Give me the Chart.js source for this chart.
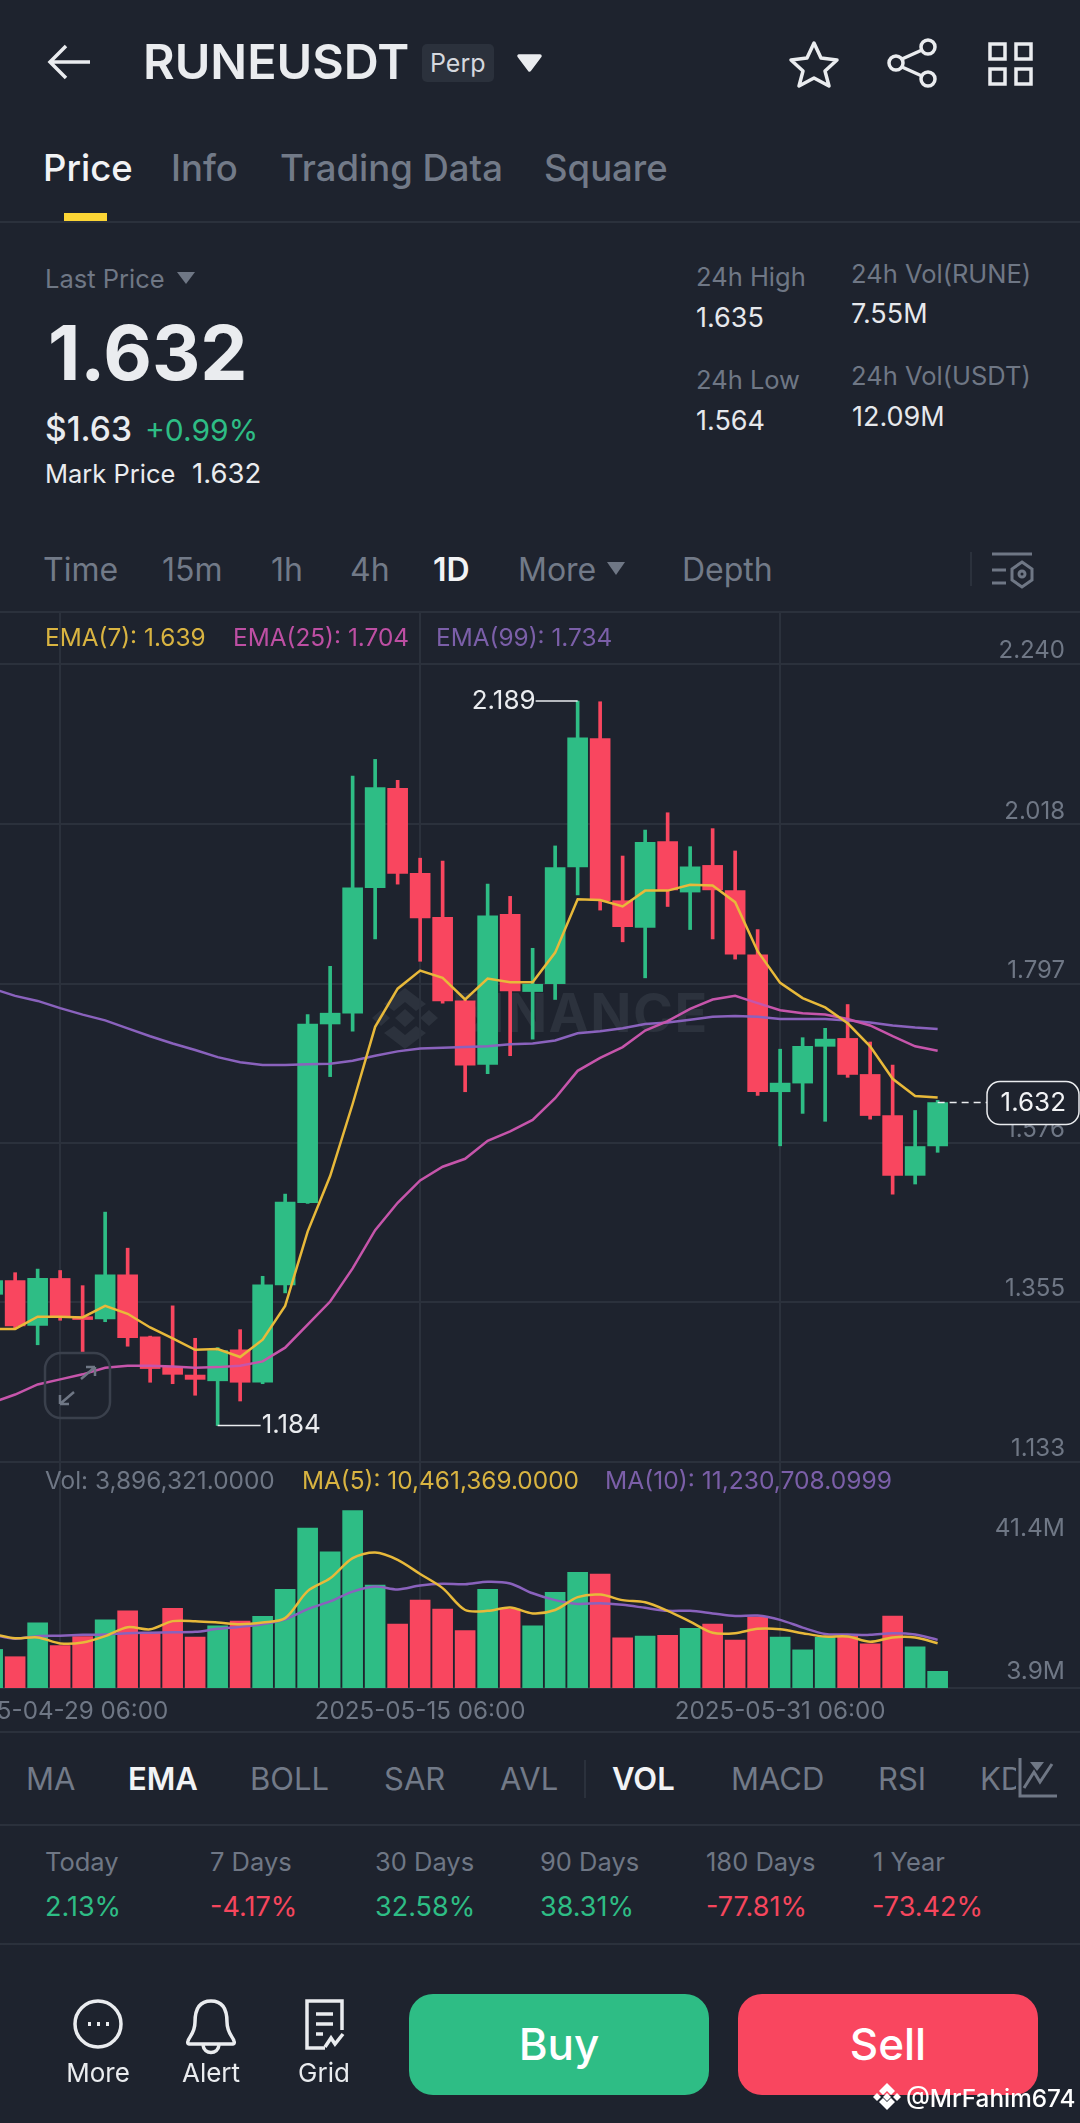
<!DOCTYPE html>
<html>
<head>
<meta charset="utf-8">
<script src="https://cdn.jsdelivr.net/npm/chart.js@4"></script>
<style>
  html, body { margin: 0; padding: 0; background: #1e232e; }
  #page { position: relative; width: 1080px; height: 2123px; overflow: hidden; background: #1e232e; font-family: Inter, "Noto Sans", sans-serif; color: #eaecef; }
  #page canvas { position: absolute; left: 0; }
  .t { position: absolute; transform: translateY(-50%); white-space: nowrap; line-height: 1; }
  .grey { color: #6f7785; }
  .tab { font-size: 36.5px; font-weight: 500; color: #727a88; }
  .frame { font-size: 32px; color: #727a88; }
  .stat { font-size: 25.5px; color: #6f7785; }
  .val { font-size: 27px; color: #e6e8ec; }
  .ind { font-size: 31px; color: #727a88; }
  .pct { font-size: 27px; }
  .on { color: #f2f3f5; font-weight: 600; }
  .up { color: #2ebd85; }
  .down { color: #f6465d; }
  .sep { position: absolute; left: 0; width: 1080px; height: 2px; background: #2b313c; }
  .btn { position: absolute; top: 1994px; height: 101px; border-radius: 24px; color: #fff; font-size: 44px; font-weight: 500; text-align: center; line-height: 101px; }
  svg { position: absolute; overflow: visible; }
</style>
</head>
<body>
<div id="page">
  <!-- cabecalho -->
  <svg style="left:0;top:0" width="1080" height="100" fill="none" stroke="#eaecef" stroke-width="3.5">
    <path d="M50 62H90M66 46L50 62L66 78"/>
    <path d="M814 43L821 58L837 60L825 71L829 86L814 78L799 86L803 71L791 60L807 58Z" stroke-linejoin="round"/>
    <circle cx="928" cy="47" r="7"/><circle cx="928" cy="79" r="7"/><circle cx="896" cy="63" r="7"/>
    <path d="M902 59L922 50M902 67L922 76"/>
    <rect x="990" y="44" width="15" height="15"/><rect x="1016" y="44" width="15" height="15"/>
    <rect x="990" y="69" width="15" height="15"/><rect x="1016" y="69" width="15" height="15"/>
    <path d="M519 56H540L529.5 70Z" fill="#eaecef" stroke-linejoin="round"/>
  </svg>
  <div class="t" style="left:143px;top:62px;font-size:48.5px;font-weight:600;">RUNEUSDT</div>
  <div style="position:absolute;left:422px;top:44px;width:72px;height:38px;background:#2b313c;border-radius:5px;"></div>
  <div class="t" style="left:430px;top:63px;font-size:25px;color:#d5d8de;">Perp</div>

  <div class="t tab on" style="left:43px;top:168px;font-weight:500;">Price</div>
  <div class="t tab" style="left:171px;top:168px;">Info</div>
  <div class="t tab" style="left:280px;top:168px;">Trading Data</div>
  <div class="t tab" style="left:544px;top:168px;">Square</div>
  <div style="position:absolute;left:64px;top:213px;width:43px;height:8px;background:#fcd535;"></div>
  <div class="sep" style="top:221px;"></div>

  <!-- resumo do preco -->
  <div class="t stat" style="left:45px;top:279px;">Last Price</div>
  <svg style="left:0;top:0" width="10" height="10"><path d="M177 272H195L186 284Z" fill="#6f7785"/></svg>
  <div class="t" style="left:48px;top:352px;font-size:75px;font-weight:700;">1.632</div>
  <div class="t" style="left:45px;top:430px;font-size:33.5px;font-weight:500;">$1.63</div>
  <div class="t up" style="left:145px;top:430px;font-size:30px;">+0.99%</div>
  <div class="t" style="left:45px;top:474px;font-size:25.5px;">Mark Price</div>
  <div class="t" style="left:192px;top:474px;font-size:27.5px;">1.632</div>
  <div class="t stat" style="left:696px;top:277px;">24h High</div>
  <div class="t val" style="left:696px;top:317px;">1.635</div>
  <div class="t stat" style="left:696px;top:380px;">24h Low</div>
  <div class="t val" style="left:696px;top:420px;">1.564</div>
  <div class="t stat" style="left:851px;top:274px;">24h Vol(RUNE)</div>
  <div class="t val" style="left:851px;top:313px;">7.55M</div>
  <div class="t stat" style="left:851px;top:376px;">24h Vol(USDT)</div>
  <div class="t val" style="left:852px;top:416px;">12.09M</div>

  <!-- periodos -->
  <div class="t frame" style="left:43px;top:570px;">Time</div>
  <div class="t frame" style="left:162px;top:570px;">15m</div>
  <div class="t frame" style="left:271px;top:570px;">1h</div>
  <div class="t frame" style="left:350px;top:570px;">4h</div>
  <div class="t frame on" style="left:433px;top:570px;">1D</div>
  <div class="t frame" style="left:518px;top:570px;">More</div>
  <div class="t frame" style="left:682px;top:570px;">Depth</div>
  <svg style="left:0;top:0" width="10" height="10" fill="none" stroke="#6f7785" stroke-width="3">
    <path d="M607 562H625L616 575Z" fill="#6f7785" stroke="none"/>
    <path d="M971 552V586" stroke="#2b313c" stroke-width="2"/>
    <path d="M992 554H1032M992 570H1006M992 583H1006"/>
    <path d="M1022 562L1032 569V580L1022 587L1012 580V569Z"/><circle cx="1022" cy="574" r="3"/>
  </svg>
  <div class="sep" style="top:611px;"></div>

  <!-- marca d'agua, fica atras dos candles -->
  <svg style="left:0;top:0" width="10" height="10" fill="#2c323d">
    <path d="M405 988L426 1004L416 1011L405 1002L394 1011L384 1004Z"/>
    <path d="M405 1049L426 1033L416 1026L405 1035L394 1026L384 1033Z"/>
    <path d="M405 1009L415 1018L405 1027L395 1018Z"/>
    <path d="M372 1018L381 1010L390 1018L381 1026Z"/><path d="M420 1018L429 1010L438 1018L429 1026Z"/>
  </svg>
  <div class="t" style="left:452px;top:1013px;font-size:54px;font-weight:700;letter-spacing:1.5px;color:#2c323d;">BINANCE</div>

  <canvas id="price-chart" width="1080" height="851" style="top:612px;"></canvas>
  <canvas id="volume-chart" width="1080" height="268" style="top:1463px;"></canvas>

  <div class="t" style="left:45px;top:637px;font-size:24.4px;color:#d9b441;">EMA(7): 1.639</div>
  <div class="t" style="left:233px;top:637px;font-size:24.4px;color:#bd4fa3;">EMA(25): 1.704</div>
  <div class="t" style="left:436px;top:637px;font-size:24.4px;color:#7b5fa8;">EMA(99): 1.734</div>

  <svg style="left:0;top:0" width="10" height="10" fill="none" stroke="#3a404c" stroke-width="2.5">
    <rect x="45" y="1353" width="65" height="65" rx="16"/>
    <path d="M60 1404L74 1392M60 1404V1395M60 1404H69" stroke="#6f7785"/>
    <path d="M95 1367L81 1379M95 1367V1376M95 1367H86" stroke="#6f7785"/>
  </svg>

  <div class="t grey" style="left:45px;top:1480px;font-size:24.4px;">Vol: 3,896,321.0000</div>
  <div class="t" style="left:302px;top:1480px;font-size:24.4px;color:#d9b441;">MA(5): 10,461,369.0000</div>
  <div class="t" style="left:605px;top:1480px;font-size:24.6px;color:#7b5fa8;">MA(10): 11,230,708.0999</div>

  <!-- indicadores -->
  <div class="sep" style="top:1731px;"></div>
  <div class="t ind" style="left:26px;top:1778px;">MA</div>
  <div class="t ind on" style="left:128px;top:1778px;">EMA</div>
  <div class="t ind" style="left:250px;top:1778px;">BOLL</div>
  <div class="t ind" style="left:384px;top:1778px;">SAR</div>
  <div class="t ind" style="left:500px;top:1778px;">AVL</div>
  <div class="t ind on" style="left:612px;top:1778px;">VOL</div>
  <div class="t ind" style="left:731px;top:1778px;">MACD</div>
  <div class="t ind" style="left:878px;top:1778px;">RSI</div>
  <div class="t ind" style="left:980px;top:1778px;">KDJ</div>
  <div style="position:absolute;left:1016px;top:1755px;width:64px;height:46px;background:#1e232e;"></div>
  <svg style="left:0;top:0" width="10" height="10" fill="none" stroke="#6f7785" stroke-width="3">
    <path d="M585 1760V1798" stroke="#2b313c" stroke-width="2"/>
    <path d="M1020 1758V1796H1057M1024 1788L1034 1772L1040 1782L1052 1764"/>
    <path d="M1030 1762H1044L1037 1771Z" fill="#6f7785" stroke="none"/>
  </svg>
  <div class="sep" style="top:1824px;"></div>

  <div class="t stat" style="left:45px;top:1862px;">Today</div>
  <div class="t stat" style="left:210px;top:1862px;">7 Days</div>
  <div class="t stat" style="left:375px;top:1862px;">30 Days</div>
  <div class="t stat" style="left:540px;top:1862px;">90 Days</div>
  <div class="t stat" style="left:706px;top:1862px;">180 Days</div>
  <div class="t stat" style="left:873px;top:1862px;">1 Year</div>
  <div class="t pct up" style="left:45px;top:1906px;">2.13%</div>
  <div class="t pct down" style="left:210px;top:1906px;">-4.17%</div>
  <div class="t pct up" style="left:375px;top:1906px;">32.58%</div>
  <div class="t pct up" style="left:540px;top:1906px;">38.31%</div>
  <div class="t pct down" style="left:706px;top:1906px;">-77.81%</div>
  <div class="t pct down" style="left:872px;top:1906px;">-73.42%</div>
  <div class="sep" style="top:1943px;"></div>

  <!-- rodape -->
  <svg style="left:0;top:0" width="10" height="10" fill="none" stroke="#eaecef" stroke-width="3.5">
    <circle cx="98" cy="2024" r="23"/>
    <path d="M88 2024h3M97 2024h3M106 2024h3" stroke-width="4"/>
    <path d="M211 2001C198 2001 195 2012 195 2022C195 2033 189 2037 188 2041C187 2044 189 2044 191 2044H231C233 2044 235 2044 234 2041C233 2037 227 2033 227 2022C227 2012 224 2001 211 2001Z"/>
    <path d="M203 2045C204 2055 218 2055 219 2045"/>
    <path d="M325 2048H307V2001H342V2030M316 2014H333M316 2024H333M316 2034H323"/>
    <path d="M325 2047L331 2038L335 2044L343 2034"/>
  </svg>
  <div class="t" style="left:98px;top:2073px;transform:translate(-50%,-50%);font-size:26px;">More</div>
  <div class="t" style="left:211px;top:2073px;transform:translate(-50%,-50%);font-size:26px;">Alert</div>
  <div class="t" style="left:324px;top:2073px;transform:translate(-50%,-50%);font-size:26px;">Grid</div>
  <div class="btn" style="left:409px;width:300px;background:#2ebd85;">Buy</div>
  <div class="btn" style="left:738px;width:300px;background:#f9465f;">Sell</div>
  <svg style="left:0;top:0" width="10" height="10" fill="#fff">
    <path d="M887 2083L895 2091L891 2095L887 2091L883 2095L879 2091Z"/>
    <path d="M887 2110L895 2102L891 2098L887 2102L883 2098L879 2102Z"/>
    <path d="M887 2093L891 2097L887 2101L883 2097Z"/>
    <path d="M873 2097L877 2093L881 2097L877 2101Z"/><path d="M893 2097L897 2093L901 2097L897 2101Z"/>
  </svg>
  <div class="t" style="left:906px;top:2098px;font-size:24.3px;font-weight:500;color:#fff;">@MrFahim674</div>
</div>

<script>
// Um candle por dia
const dates = [
    "2025-04-26 06:00", "2025-04-27 06:00", "2025-04-28 06:00", "2025-04-29 06:00", "2025-04-30 06:00",
    "2025-05-01 06:00", "2025-05-02 06:00", "2025-05-03 06:00", "2025-05-04 06:00", "2025-05-05 06:00",
    "2025-05-06 06:00", "2025-05-07 06:00", "2025-05-08 06:00", "2025-05-09 06:00", "2025-05-10 06:00",
    "2025-05-11 06:00", "2025-05-12 06:00", "2025-05-13 06:00", "2025-05-14 06:00", "2025-05-15 06:00",
    "2025-05-16 06:00", "2025-05-17 06:00", "2025-05-18 06:00", "2025-05-19 06:00", "2025-05-20 06:00",
    "2025-05-21 06:00", "2025-05-22 06:00", "2025-05-23 06:00", "2025-05-24 06:00", "2025-05-25 06:00",
    "2025-05-26 06:00", "2025-05-27 06:00", "2025-05-28 06:00", "2025-05-29 06:00", "2025-05-30 06:00",
    "2025-05-31 06:00", "2025-06-01 06:00", "2025-06-02 06:00", "2025-06-03 06:00", "2025-06-04 06:00",
    "2025-06-05 06:00", "2025-06-06 06:00", "2025-06-07 06:00"
];
const dateTicks = ["2025-04-29 06:00", "2025-05-15 06:00", "2025-05-31 06:00"];

const opens = [1.366, 1.385, 1.323, 1.388, 1.335, 1.332, 1.393, 1.307, 1.265, 1.254, 1.246, 1.289, 1.244, 1.379, 1.493, 1.741, 1.756, 1.930, 2.068, 1.950, 1.889, 1.773, 1.685, 1.893, 1.786, 1.797, 1.959, 2.137, 1.912, 1.875, 1.994, 1.924, 1.961, 1.926, 1.837, 1.647, 1.659, 1.710, 1.721, 1.671, 1.614, 1.531, 1.572];
const closes = [1.385, 1.322, 1.388, 1.334, 1.331, 1.393, 1.306, 1.263, 1.255, 1.248, 1.288, 1.244, 1.379, 1.494, 1.741, 1.756, 1.930, 2.069, 1.950, 1.888, 1.773, 1.684, 1.891, 1.787, 1.796, 1.958, 2.138, 1.912, 1.876, 1.993, 1.927, 1.959, 1.927, 1.838, 1.647, 1.659, 1.710, 1.720, 1.671, 1.614, 1.531, 1.571, 1.632];
const highs = [1.394, 1.396, 1.401, 1.399, 1.378, 1.480, 1.430, 1.308, 1.350, 1.305, 1.292, 1.317, 1.391, 1.505, 1.754, 1.821, 2.085, 2.108, 2.079, 1.971, 1.967, 1.774, 1.935, 1.918, 1.846, 1.988, 2.189, 2.188, 1.974, 2.010, 2.034, 1.987, 2.012, 1.981, 1.872, 1.706, 1.722, 1.735, 1.768, 1.716, 1.684, 1.621, 1.635];
const lows = [1.360, 1.318, 1.296, 1.330, 1.286, 1.328, 1.294, 1.244, 1.242, 1.226, 1.184, 1.218, 1.242, 1.368, 1.492, 1.668, 1.731, 1.859, 1.935, 1.828, 1.770, 1.647, 1.672, 1.697, 1.720, 1.775, 1.920, 1.899, 1.855, 1.805, 1.904, 1.872, 1.859, 1.831, 1.642, 1.572, 1.617, 1.606, 1.667, 1.609, 1.505, 1.519, 1.563];

const ema7 = [1.318, 1.318, 1.335, 1.335, 1.334, 1.350, 1.339, 1.320, 1.305, 1.289, 1.290, 1.279, 1.303, 1.350, 1.453, 1.530, 1.630, 1.737, 1.790, 1.815, 1.805, 1.775, 1.804, 1.799, 1.799, 1.840, 1.914, 1.913, 1.904, 1.926, 1.926, 1.934, 1.933, 1.910, 1.842, 1.798, 1.777, 1.764, 1.742, 1.710, 1.665, 1.641, 1.639];
const ema25 = [1.216, 1.227, 1.241, 1.248, 1.255, 1.264, 1.267, 1.267, 1.266, 1.264, 1.265, 1.267, 1.273, 1.292, 1.324, 1.356, 1.402, 1.455, 1.493, 1.524, 1.543, 1.554, 1.579, 1.592, 1.608, 1.638, 1.676, 1.694, 1.709, 1.732, 1.745, 1.762, 1.775, 1.780, 1.770, 1.760, 1.756, 1.754, 1.748, 1.739, 1.724, 1.710, 1.704];
const ema99 = [1.790, 1.780, 1.773, 1.763, 1.754, 1.746, 1.735, 1.724, 1.714, 1.705, 1.695, 1.688, 1.684, 1.684, 1.685, 1.686, 1.690, 1.697, 1.703, 1.707, 1.708, 1.709, 1.710, 1.713, 1.714, 1.718, 1.728, 1.731, 1.735, 1.741, 1.743, 1.747, 1.751, 1.752, 1.751, 1.748, 1.748, 1.748, 1.746, 1.743, 1.739, 1.736, 1.734];
const priceTicks = [2.240, 2.018, 1.797, 1.576, 1.355, 1.133];

// Volume em milhoes
const volumes = [9.0, 7.3, 15.2, 9.9, 12.0, 15.9, 18.0, 12.8, 18.6, 11.9, 14.5, 15.6, 16.7, 23.0, 37.3, 31.8, 41.4, 24.0, 14.9, 20.5, 18.4, 13.4, 23.0, 18.4, 14.5, 22.3, 27.0, 26.6, 11.7, 12.1, 12.3, 13.9, 14.9, 11.2, 16.6, 11.9, 8.9, 11.8, 12.1, 10.3, 16.8, 9.6, 3.896];
const ma5 = [12.6, 11.6, 11.8, 10.4, 10.6, 12.1, 14.2, 13.7, 15.6, 15.6, 15.3, 14.9, 15.3, 16.3, 22.6, 25.6, 30.3, 31.6, 29.9, 26.6, 23.3, 18.2, 18.0, 18.8, 17.4, 18.2, 21.2, 21.8, 20.5, 20.0, 18.0, 15.5, 12.9, 12.8, 13.8, 13.7, 12.8, 12.0, 12.0, 10.8, 11.8, 11.8, 10.46];
const ma10 = [12.4, 11.5, 12.1, 12.2, 12.4, 12.5, 12.8, 12.9, 13.0, 13.1, 13.8, 14.3, 14.9, 16.0, 18.4, 20.2, 22.5, 23.7, 23.0, 23.9, 24.3, 24.2, 24.8, 24.4, 22.1, 20.5, 19.6, 19.8, 19.4, 18.7, 18.0, 18.0, 17.4, 16.8, 16.9, 15.9, 14.1, 12.6, 12.5, 12.4, 12.8, 12.5, 11.23];
const volumeTicks = [41.4, 3.9];

const GREEN = "#2ebd85";
const RED = "#f9465f";
const GRID = "#2b313c";
const TICK = "#6f7785";
const FONT = "Inter";

const candleColors = closes.map((c, i) => c >= opens[i] ? GREEN : RED);
const toPoints = values => values.map((y, x) => ({ x, y }));
const xAxisIndexes = dateTicks.map(d => dates.indexOf(d));

function xScale(showLabels) {
    return {
        type: "linear",
        offset: false,
        min: 0.327,
        max: 48.327,
        afterBuildTicks: scale => { scale.ticks = xAxisIndexes.map(value => ({ value })); },
        afterFit: scale => {
            scale.paddingLeft = 0;
            scale.paddingRight = 0;
            if(showLabels) scale.height = 43;
        },
        grid: { offset: false, color: GRID, lineWidth: 2, drawTicks: false },
        border: { display: showLabels, color: GRID, width: 2 },
        ticks: {
            display: showLabels,
            autoSkip: false,
            maxRotation: 0,
            padding: 9,
            color: TICK,
            font: { family: FONT, size: 24.2 },
            callback: value => dates[value]
        }
    };
}

function lineSet(values, color, order, tension) {
    return {
        type: "line",
        data: toPoints(values),
        borderColor: color,
        borderWidth: 2.5,
        pointRadius: 0,
        tension: tension,
        order: order
    };
}

// Rotulos de maxima, minima e ultimo preco
const priceLabels = {
    id: "priceLabels",
    afterDraw(chart) {
        const { ctx, scales: { x, y } } = chart;
        const lowIndex = lows.indexOf(Math.min(...lows));
        const highIndex = highs.indexOf(Math.max(...highs));
        const lastIndex = closes.length - 1;

        ctx.save();
        ctx.strokeStyle = "#eaecef";
        ctx.fillStyle = "#eaecef";
        ctx.lineWidth = 1.5;
        ctx.font = "26px " + FONT;
        ctx.textBaseline = "middle";

        const highY = y.getPixelForValue(highs[highIndex]);
        const highX = x.getPixelForValue(highIndex);
        ctx.beginPath();
        ctx.moveTo(highX, highY);
        ctx.lineTo(highX - 42, highY);
        ctx.stroke();
        ctx.textAlign = "right";
        ctx.fillText(highs[highIndex].toFixed(3), highX - 42, highY);

        const lowY = y.getPixelForValue(lows[lowIndex]);
        const lowX = x.getPixelForValue(lowIndex);
        ctx.beginPath();
        ctx.moveTo(lowX, lowY);
        ctx.lineTo(lowX + 43, lowY);
        ctx.stroke();
        ctx.textAlign = "left";
        ctx.fillText(lows[lowIndex].toFixed(3), lowX + 44, lowY);

        // Ultimo preco, com a caixa por cima da escala
        const lastY = y.getPixelForValue(closes[lastIndex]);
        const lastX = x.getPixelForValue(lastIndex);
        ctx.setLineDash([7, 5]);
        ctx.beginPath();
        ctx.moveTo(lastX, lastY);
        ctx.lineTo(987, lastY);
        ctx.stroke();
        ctx.setLineDash([]);
        ctx.beginPath();
        ctx.roundRect(987, lastY - 21, 92, 43, 13);
        ctx.fillStyle = "#1e232e";
        ctx.fill();
        ctx.stroke();
        ctx.fillStyle = "#f2f3f5";
        ctx.textAlign = "right";
        ctx.fillText(closes[lastIndex].toFixed(3), 1066, lastY + 1);
        ctx.restore();
    }
};

// A escala de volume nao tem grade e o rotulo de cima fica abaixo do nivel
const volumeLabels = {
    id: "volumeLabels",
    afterDraw(chart) {
        const { ctx, scales: { y } } = chart;
        ctx.save();
        ctx.fillStyle = TICK;
        ctx.font = "24.5px " + FONT;
        ctx.textAlign = "right";
        ctx.textBaseline = "middle";
        ctx.fillText(volumeTicks[0] + "M", 1065, y.getPixelForValue(volumeTicks[0]) + 18);
        ctx.fillText(volumeTicks[1] + "M", 1065, y.getPixelForValue(volumeTicks[1]));
        ctx.restore();
    }
};

function priceChartConfig() {
    return {
        type: "bar",
        plugins: [priceLabels],
        data: {
            datasets: [
                lineSet(ema7, "#e8b93a", 0, 0),
                lineSet(ema25, "#c655ab", 1, 0),
                lineSet(ema99, "#8a62bd", 2, 0),
                {
                    data: opens.map((o, i) => ({ x: i, y: [o, closes[i]] })),
                    backgroundColor: candleColors,
                    barThickness: 20,
                    grouped: false,
                    order: 3
                },
                {
                    data: lows.map((l, i) => ({ x: i, y: [l, highs[i]] })),
                    backgroundColor: candleColors,
                    barThickness: 3,
                    grouped: false,
                    order: 4
                }
            ]
        },
        options: {
            responsive: false,
            animation: false,
            devicePixelRatio: 1,
            layout: { padding: 0 },
            plugins: { legend: { display: false }, tooltip: { enabled: false } },
            scales: {
                x: xScale(false),
                y: {
                    position: "right",
                    min: 1.132,
                    max: 2.3125,
                    afterBuildTicks: scale => { scale.ticks = priceTicks.map(value => ({ value })); },
                    afterFit: scale => {
                        scale.paddingTop = 0;
                        scale.paddingBottom = 0;
                    },
                    grid: { color: GRID, lineWidth: 2, drawTicks: false },
                    border: { display: false },
                    ticks: {
                        mirror: true,
                        padding: -15,
                        labelOffset: -13,
                        autoSkip: false,
                        color: TICK,
                        font: { family: FONT, size: 24 },
                        callback: value => value.toFixed(3)
                    }
                }
            }
        }
    };
}

function volumeChartConfig() {
    return {
        type: "bar",
        plugins: [volumeLabels],
        data: {
            datasets: [
                lineSet(ma5, "#e8b93a", 0, 0.3),
                lineSet(ma10, "#8a62bd", 1, 0.3),
                {
                    data: toPoints(volumes),
                    backgroundColor: candleColors,
                    barThickness: 20,
                    grouped: false,
                    order: 2
                }
            ]
        },
        options: {
            responsive: false,
            animation: false,
            devicePixelRatio: 1,
            layout: { padding: 0 },
            plugins: { legend: { display: false }, tooltip: { enabled: false } },
            scales: {
                x: xScale(true),
                y: {
                    display: false,
                    min: 0,
                    max: 52.5
                }
            }
        }
    };
}

new Chart(document.getElementById("price-chart"), priceChartConfig());
new Chart(document.getElementById("volume-chart"), volumeChartConfig());
</script>
</body>
</html>
